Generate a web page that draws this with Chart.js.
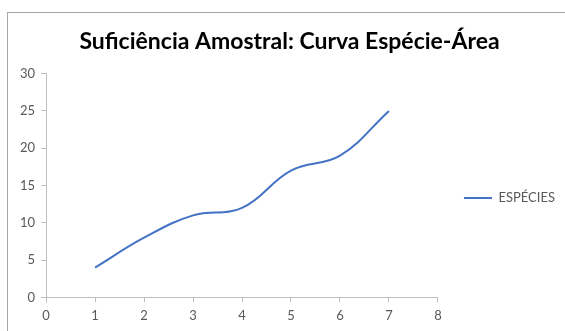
<!DOCTYPE html>
<html>
<head>
<meta charset="utf-8">
<script src="https://cdn.jsdelivr.net/npm/chart.js@4"></script>
<style>
  html, body { margin: 0; padding: 0; background: #fff; overflow: hidden; }
  #wrap { position: relative; width: 565px; height: 331px; }
</style>
</head>
<body>
<div id="wrap"><canvas id="chart" width="565" height="331"></canvas></div>
<script>
// área amostral (x) e número acumulado de espécies (y)
const areas = [1, 2, 3, 4, 5, 6, 7];
const especies = [4, 8, 11, 12, 17, 19, 25];
const xTicks = [0, 1, 2, 3, 4, 5, 6, 7, 8];
const yTicks = [0, 5, 10, 15, 20, 25, 30];
const seriesName = 'ESPÉCIES';
const chartTitle = 'Suficiência Amostral: Curva Espécie-Área';

const axisGray = '#bfbfbf';
const labelGray = '#595959';
const lineBlue = '#4472c4';

// moldura cinza do gráfico (estilo Excel)
const framePlugin = {
    id: 'frame',
    beforeDraw(chart) {
        const ctx = chart.ctx;
        ctx.save();
        ctx.fillStyle = '#fff';
        ctx.fillRect(0, 0, chart.width, chart.height);
        ctx.strokeStyle = '#a6a6a6';
        ctx.lineWidth = 1;
        ctx.strokeRect(7.5, 12.5, 700, 500);
        ctx.restore();
    }
};

new Chart(document.getElementById('chart'), {
    type: 'line',
    data: {
        datasets: [{
            label: seriesName,
            data: areas.map((a, i) => ({ x: a, y: especies[i] })),
            borderColor: lineBlue,
            backgroundColor: lineBlue,
            borderWidth: 2,
            pointRadius: 0,
            tension: 0.4,
            fill: false
        }]
    },
    options: {
        responsive: false,
        animation: false,
        layout: { padding: { left: 14, right: 0, top: 24, bottom: 1 } },
        plugins: {
            title: {
                display: true,
                text: chartTitle,
                color: '#000',
                font: { family: 'Lato', size: 23, weight: 'bold' },
                padding: { top: 4, bottom: 18 }
            },
            legend: {
                position: 'right',
                fullSize: false,
                title: { display: true, text: ' ', padding: { top: 24, bottom: 0 }, font: { size: 1 } },
                labels: {
                    boxWidth: 28,
                    boxHeight: 0,
                    color: labelGray,
                    font: { family: 'Lato', size: 13 },
                    padding: 26,
                    generateLabels(chart) {
                        return [{
                            text: seriesName,
                            strokeStyle: lineBlue,
                            fillStyle: lineBlue,
                            lineWidth: 2,
                            fontColor: labelGray,
                            datasetIndex: 0
                        }];
                    }
                }
            },
            tooltip: { enabled: false }
        },
        scales: {
            x: {
                type: 'linear',
                min: 0,
                max: 8,
                afterBuildTicks(axis) { axis.ticks = xTicks.map(v => ({ value: v })); },
                grid: { drawOnChartArea: false, drawTicks: true, tickLength: 5, color: axisGray },
                border: { color: axisGray },
                ticks: { color: labelGray, font: { family: 'Lato', size: 13 }, padding: 6 }
            },
            y: {
                min: 0,
                max: 30,
                afterBuildTicks(axis) { axis.ticks = yTicks.map(v => ({ value: v })); },
                grid: { drawOnChartArea: false, drawTicks: true, tickLength: 5, color: axisGray },
                border: { color: axisGray },
                ticks: { color: labelGray, font: { family: 'Lato', size: 13 }, padding: 6 }
            }
        }
    },
    plugins: [framePlugin]
});
</script>
</body>
</html>
